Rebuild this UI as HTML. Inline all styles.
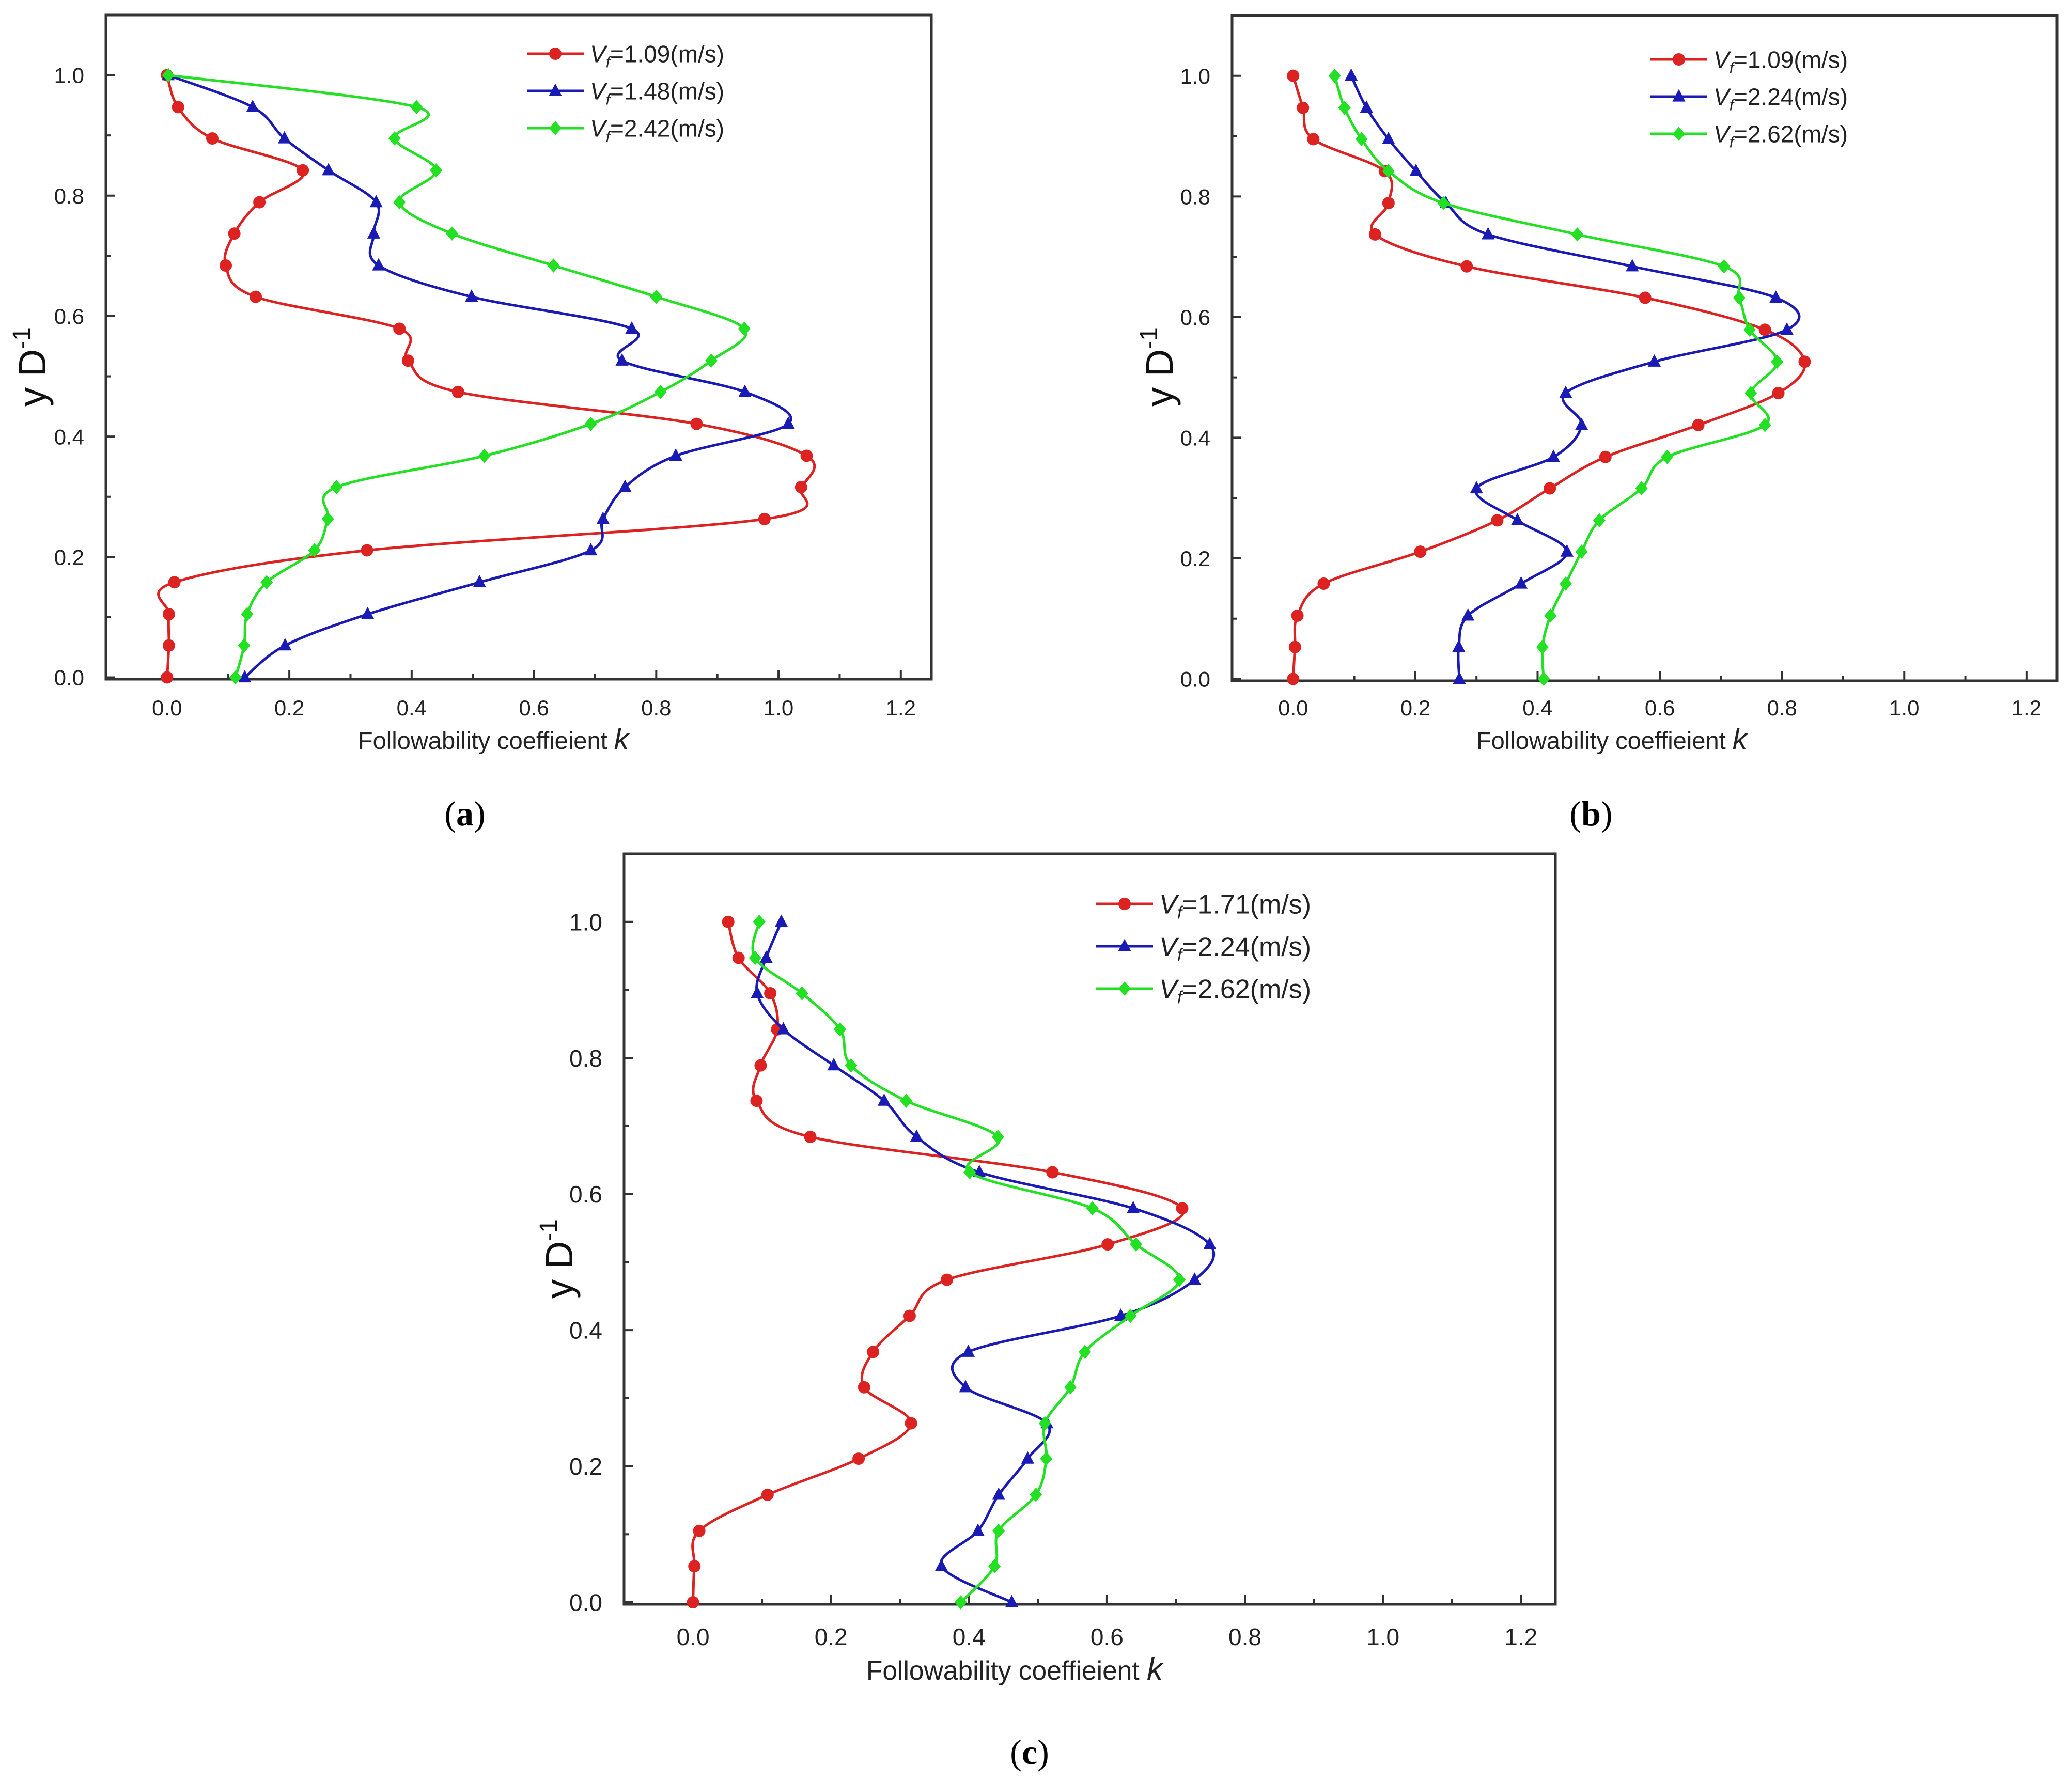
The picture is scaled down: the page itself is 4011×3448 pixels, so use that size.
<!DOCTYPE html>
<html><head><meta charset="utf-8"><style>
html,body{margin:0;padding:0;background:#fff;}
svg{display:block;font-family:"Liberation Sans",sans-serif;}
</style></head>
<body>
<svg id="fig" width="4011" height="3448" viewBox="0 0 4011 3448" xmlns="http://www.w3.org/2000/svg">
<text x="900" y="1598" font-family="Liberation Serif,serif" font-size="68" text-anchor="middle">(<tspan font-weight="bold">a</tspan>)</text>
<text x="3080" y="1598" font-family="Liberation Serif,serif" font-size="68" text-anchor="middle">(<tspan font-weight="bold">b</tspan>)</text>
<text x="1993" y="3415" font-family="Liberation Serif,serif" font-size="68" text-anchor="middle">(<tspan font-weight="bold">c</tspan>)</text>
</svg>
<script>
const yLevels = [1.0,0.947,0.895,0.842,0.789,0.737,0.684,0.632,0.579,0.526,0.474,0.421,0.368,0.316,0.263,0.211,0.158,0.105,0.053,0.0];
const xTicks = [0,0.2,0.4,0.6,0.8,1.0,1.2];
const xTickLabels = ["0.0","0.2","0.4","0.6","0.8","1.0","1.2"];
const yTicks = [0,0.2,0.4,0.6,0.8,1.0];
const yTickLabels = ["0.0","0.2","0.4","0.6","0.8","1.0"];

const aRed = [0,0.018,0.074,0.222,0.151,0.11,0.096,0.145,0.38,0.394,0.476,0.866,1.046,1.037,0.977,0.327,0.012,0.003,0.003,0];
const aBlue = [0.002,0.14,0.192,0.264,0.342,0.338,0.346,0.498,0.76,0.744,0.945,1.016,0.832,0.749,0.713,0.693,0.511,0.328,0.193,0.127];
const aGreen = [0.002,0.408,0.372,0.44,0.38,0.466,0.632,0.8,0.944,0.89,0.807,0.693,0.519,0.277,0.263,0.241,0.163,0.131,0.126,0.112];
const aNames = ["1.09","1.48","2.42"];

const bRed = [0,0.016,0.033,0.15,0.156,0.134,0.284,0.576,0.772,0.837,0.794,0.663,0.511,0.42,0.334,0.208,0.05,0.007,0.003,0];
const bBlue = [0.095,0.12,0.156,0.201,0.25,0.319,0.555,0.79,0.808,0.591,0.446,0.472,0.426,0.3,0.367,0.448,0.373,0.286,0.271,0.272];
const bGreen = [0.068,0.084,0.112,0.156,0.246,0.465,0.705,0.73,0.747,0.792,0.749,0.772,0.612,0.57,0.501,0.472,0.446,0.421,0.408,0.41];
const bNames = ["1.09","2.24","2.62"];

const cRed = [0.051,0.066,0.112,0.122,0.098,0.092,0.17,0.521,0.709,0.601,0.368,0.314,0.261,0.248,0.316,0.24,0.108,0.009,0.002,0];
const cBlue = [0.128,0.106,0.093,0.131,0.204,0.277,0.324,0.415,0.638,0.749,0.727,0.62,0.399,0.395,0.513,0.485,0.443,0.413,0.36,0.462];
const cGreen = [0.096,0.09,0.158,0.213,0.229,0.309,0.442,0.401,0.579,0.642,0.705,0.634,0.568,0.547,0.51,0.512,0.497,0.443,0.437,0.388];
const cNames = ["1.71","2.24","2.62"];

const NS = "http://www.w3.org/2000/svg";
const svg = document.getElementById('fig');
function mk(tag, attrs, parent){const e=document.createElementNS(NS,tag);for(const k in attrs)e.setAttribute(k,attrs[k]);(parent||svg).appendChild(e);return e;}
const COLORS = ["#dd2222","#1a1ab4","#22e022"];

function marker(g, shape, x, y, color, r){
  let e;
  if(shape===0){ e=mk('circle',{cx:x,cy:y,r:r,fill:color},g); }
  else if(shape===1){ e=mk('polygon',{points:`${x},${y-r*1.2} ${x-r*1.05},${y+r*0.8} ${x+r*1.05},${y+r*0.8}`,fill:color},g); }
  else { e=mk('polygon',{points:`${x},${y-r*1.15} ${x+r*1.0},${y} ${x},${y+r*1.15} ${x-r*1.0},${y}`,fill:color},g); }
  return e;
}

function panel(id, L, T, R, B, series, names, fs, legX, legY, legGap, legFs, titleY, titleX, yTitleX, yTitleY, tickLabY){
  const g = mk('g',{});
  
  
  const x0=-0.1, x1=1.25, y0=-0.003, y1=1.1;
  const sx = v => L + (v-x0)/(x1-x0)*(R-L);
  const sy = v => B - (v-y0)/(y1-y0)*(B-T);
  const frame = mk('rect',{x:L,y:T,width:R-L,height:B-T,fill:'none',stroke:'#333',"stroke-width":5},g);
  
  
  for(let i=0;i<=12;i++){
    const v=i/10, len=(i%2===0)?18:10;
    mk('line',{x1:sx(v),x2:sx(v),y1:B,y2:B-len,stroke:'#333',"stroke-width":4},g);
  }
  xTicks.forEach((v,i)=>{
    const t=mk('text',{x:sx(v),y:tickLabY,"font-size":fs,"text-anchor":"middle",fill:'#222'},g);
    t.textContent=xTickLabels[i];
    
    
  });
  for(let i=0;i<=10;i++){
    const v=i/10, len=(i%2===0)?18:10;
    mk('line',{x1:L,x2:L+len,y1:sy(v),y2:sy(v),stroke:'#333',"stroke-width":4},g);
  }
  yTicks.forEach((v,i)=>{
    const t=mk('text',{x:L-42,y:sy(v)+fs*0.36,"font-size":fs,"text-anchor":"end",fill:'#222'},g);
    t.textContent=yTickLabels[i];
    
    
  });
  const xt=mk('text',{x:titleX,y:titleY,"font-size":fs*1.12,"text-anchor":"middle",fill:'#222'},g);
  xt.innerHTML='Followability coeffieient <tspan font-style="italic" font-size="'+(fs*1.35)+'">k</tspan>';
  
  
  const yt=mk('text',{x:0,y:0,"font-size":74,"text-anchor":"middle",fill:'#111',transform:`translate(${yTitleX+8},${yTitleY}) rotate(-90)`},g);
  yt.innerHTML='y D<tspan dy="-30" font-size="48">-1</tspan>';
  
  
  series.forEach((vals,si)=>{
    const pts = vals.map((v,i)=>[sx(v), sy(yLevels[i])]);
    let d = `M${pts[0][0]},${pts[0][1]}`;
    for(let i=0;i<pts.length-1;i++){
      const p0=pts[Math.max(i-1,0)],p1=pts[i],p2=pts[i+1],p3=pts[Math.min(i+2,pts.length-1)];
      const c1=[p1[0]+(p2[0]-p0[0])/6,p1[1]+(p2[1]-p0[1])/6];
      const c2=[p2[0]-(p3[0]-p1[0])/6,p2[1]-(p3[1]-p1[1])/6];
      d+=` C${c1[0]},${c1[1]} ${c2[0]},${c2[1]} ${p2[0]},${p2[1]}`;
    }
    const line=mk('path',{d:d,fill:'none',stroke:COLORS[si],"stroke-width":5},g);
    
    
    pts.forEach(p=>{
      const m=marker(g,si,p[0],p[1],COLORS[si],12);
      
      
    });
    const ly = legY + si*legGap;
    const lg = mk('g',{},g);
    
    
    mk('line',{x1:legX,x2:legX+110,y1:ly,y2:ly,stroke:COLORS[si],"stroke-width":5},lg);
    marker(lg,si,legX+55,ly,COLORS[si],12);
    const lt=mk('text',{x:legX+122,y:ly+legFs*0.36,"font-size":legFs,fill:'#222'},lg);
    lt.innerHTML='<tspan font-style="italic">V</tspan><tspan font-style="italic" font-size="'+(legFs*0.65)+'" dy="10">f</tspan><tspan dy="-10">=' + names[si] + '(m/s)</tspan>';
  });
}

panel('a',205,29,1803,1315,[aRed,aBlue,aGreen],aNames,42,1020,104,72,46,1450,955,80,710,1385);
panel('b',2385,30,3982,1318,[bRed,bBlue,bGreen],bNames,42,3195,115,72,46,1450,3120,2262,710,1385);
panel('c',1208,1653,3011,3106,[cRed,cBlue,cGreen],cNames,46,2122,1750,82,52,3252,1964,1100,2437,3185);
</script>
</body></html>
